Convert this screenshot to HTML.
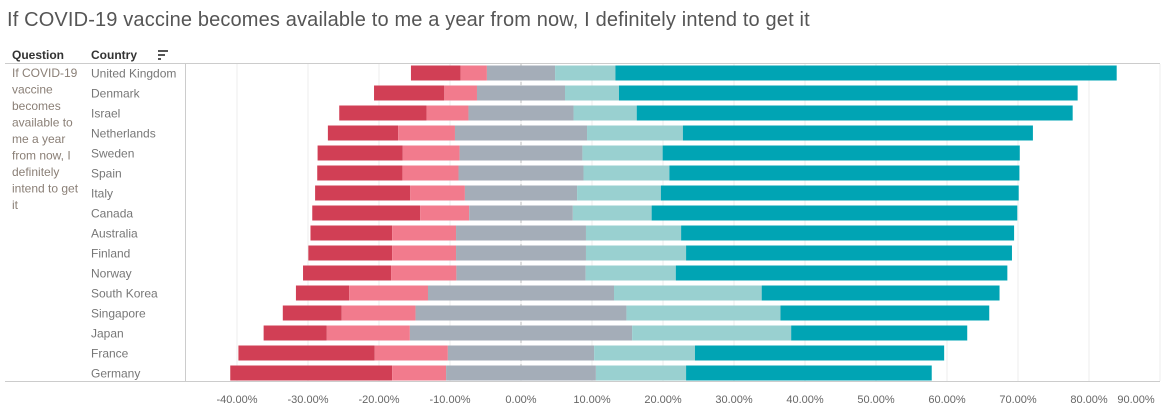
<!DOCTYPE html>
<html><head><meta charset="utf-8"><style>
body{margin:0;background:#fff;font-family:"Liberation Sans",sans-serif;}
svg{display:block}
</style></head><body>
<svg id="c" width="1168" height="418">
<text x="7" y="26" font-size="20" letter-spacing="0.15" fill="#555">If COVID-19 vaccine becomes available to me a year from now, I definitely intend to get it</text>
<text x="12" y="59" font-size="12" font-weight="bold" fill="#333">Question</text>
<text x="91" y="59" font-size="12" font-weight="bold" fill="#333">Country</text>
<g fill="#555"><rect x="158" y="50" width="10" height="2"/><rect x="158" y="54" width="7" height="2"/><rect x="158" y="58" width="3" height="2"/></g>
<line x1="5" y1="63.5" x2="1160" y2="63.5" stroke="#ccc"/>
<line x1="185.5" y1="63" x2="185.5" y2="382" stroke="#ccc"/>
<line x1="5" y1="381.5" x2="1160" y2="381.5" stroke="#ccc"/>
<g id="q" font-size="12" fill="#8a7f76"></g>
<g id="grid"></g><g id="zero"></g><g id="bars"></g><g id="labels"></g><g id="ticks"></g>
</svg>
<script>
const countries=["United Kingdom","Denmark","Israel","Netherlands","Sweden","Spain","Italy","Canada","Australia","Finland","Norway","South Korea","Singapore","Japan","France","Germany"];
const stronglyDisagree=[7.0,9.9,12.3,9.9,12.0,12.0,13.4,15.2,11.5,11.8,12.4,7.5,8.3,8.9,19.2,22.8];
const disagree=[3.7,4.6,5.9,8.0,8.0,7.9,7.7,6.9,9.0,9.0,9.2,11.1,10.4,11.7,10.3,7.6];
const neutral=[9.6,12.4,14.8,18.6,17.3,17.6,15.8,14.6,18.3,18.3,18.2,26.2,29.7,31.3,20.6,21.1];
const agree=[8.5,7.6,8.9,13.5,11.3,12.1,11.8,11.1,13.4,14.1,12.7,20.8,21.7,22.4,14.2,12.7];
const stronglyAgree=[70.6,64.6,61.4,49.3,50.3,49.3,50.4,51.5,46.9,45.9,46.7,33.5,29.4,24.8,35.1,34.6];
const tickValues=[-40,-30,-20,-10,0,10,20,30,40,50,60,70,80,90];
const questionLines=["If COVID-19","vaccine","becomes","available to","me a year","from now, I","definitely","intend to get","it"];
const NS="http://www.w3.org/2000/svg";
const x=v=>521+v*7.1;
const y=i=>73+i*20;
function mk(tag,attrs,parent){const e=document.createElementNS(NS,tag);for(const k in attrs)e.setAttribute(k,attrs[k]);parent.appendChild(e);return e;}
const q=document.getElementById('q');
questionLines.forEach((l,i)=>{const t=mk('text',{x:12,y:77+i*16.5},q);t.textContent=l;});
const grid=document.getElementById('grid'),ticks=document.getElementById('ticks');
tickValues.forEach(v=>{
 const g=mk('line',{x1:x(v),x2:x(v),y1:64,y2:381,stroke:'#eee'},grid);
 
 
 const tx=Math.min(x(v),1136);
 const t=mk('text',{x:tx,y:403,'text-anchor':'middle','font-size':11,fill:'#666'},ticks);
 
 
 t.textContent=v.toFixed(2)+'%';
});
const z=mk('line',{x1:x(0),x2:x(0),y1:64,y2:381,stroke:'#bbb','stroke-dasharray':'3,3'},document.getElementById('zero'));


const bars=document.getElementById('bars'),labels=document.getElementById('labels');
const colors=['#d13f55','#f27b8d','#a4adb8','#99d0d0','#00a4b4'];
const names=['strongly-disagree','disagree','neutral','agree','strongly-agree'];
countries.forEach((c,i)=>{
 const vals=[stronglyDisagree[i],disagree[i],neutral[i],agree[i],stronglyAgree[i]];
 let start=-(vals[0]+vals[1]+vals[2]/2);
 vals.forEach((v,k)=>{
  const r=mk('rect',{x:x(start),y:y(i)-7.5,width:x(start+v)-x(start),height:15,fill:colors[k]},bars);
  
  
  start+=v;
 });
 const t=mk('text',{x:91,y:y(i)+4.5,'font-size':12,fill:'#777'},labels);
 
 
 t.textContent=c;
});
</script>
</body></html>
